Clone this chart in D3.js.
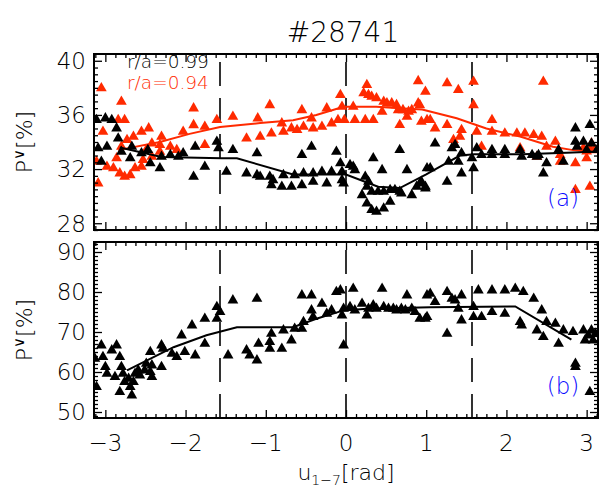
<!DOCTYPE html>
<html><head><meta charset="utf-8">
<script src="https://cdn.jsdelivr.net/npm/d3@7"></script>
<style>
body{margin:0;background:#fff;}
svg text{font-family:"DejaVu Sans","Liberation Sans",sans-serif;font-weight:200;}
</style></head>
<body><svg id="c" width="599" height="489"></svg>
<script>
// ---------- data ----------
const title = "#28741";
const xTicks = [-3,-2,-1,0,1,2,3];
const topYTicks = [28,32,36,40];
const botYTicks = [50,60,70,80,90];
const dashedAt = [-Math.PI/2, 0, Math.PI/2];
const legendLabels = ["r/a=0.99","r/a=0.94"];

const topBlack = [[-3.11,35.63],[-3.0,35.75],[-2.92,35.63],[-2.86,35.01],[-2.84,34.27],[-3.09,33.54],[-2.98,33.65],[-3.05,32.55],[-2.80,33.29],[-2.67,33.65],[-2.69,32.8],[-2.55,33.17],[-2.47,33.41],[-2.44,32.43],[-2.32,32.06],[-2.30,32.92],[-2.19,33.04],[-2.09,32.92],[-2.03,33.17],[-1.90,31.44],[-1.76,32.18],[-1.88,33.65],[-1.61,34.02],[-1.59,33.54],[-1.49,31.81],[-1.41,33.41],[-1.24,31.69],[-1.11,31.56],[-1.11,33.17],[-1.07,31.44],[-0.95,31.44],[-0.93,30.82],[-0.91,31.19],[-0.80,30.7],[-0.78,31.56],[-0.68,30.7],[-0.64,31.56],[-0.55,33.04],[-0.55,30.82],[-0.53,31.69],[-0.43,33.65],[-0.41,31.07],[-0.41,31.69],[-0.30,31.81],[-0.24,30.95],[-0.18,31.81],[-0.12,33.29],[-0.07,32.43],[-0.05,31.81],[-0.05,31.19],[-0.03,30.95],[0.05,32.3],[0.09,32.18],[0.11,31.93],[0.24,31.44],[0.28,31.07],[0.26,30.7],[0.20,30.08],[0.26,29.47],[0.32,28.98],[0.38,28.85],[0.47,29.1],[0.34,32.8],[0.32,30.33],[0.40,30.33],[0.45,31.93],[0.47,30.33],[0.55,29.59],[0.55,30.46],[0.61,30.46],[0.67,33.41],[0.67,30.33],[0.69,30.21],[0.76,31.93],[0.82,30.08],[0.88,30.7],[0.92,30.95],[0.99,30.7],[1.01,32.06],[0.94,31.07],[0.99,30.58],[1.05,32.06],[1.11,33.9],[1.28,32.55],[1.26,31.07],[1.32,33.54],[1.36,33.78],[1.40,32.55],[1.44,31.69],[1.44,33.17],[1.57,32.8],[1.59,32.06],[1.63,33.54],[1.69,33.04],[1.82,33.41],[1.82,33.04],[1.98,33.41],[1.98,33.04],[2.17,33.41],[2.19,32.92],[2.32,33.04],[2.38,32.92],[2.40,33.04],[2.46,31.69],[2.50,32.43],[2.65,33.41],[2.71,32.55],[2.86,35.01],[2.86,34.02],[2.88,33.65],[2.96,34.02],[3.04,35.26],[3.06,33.9],[3.0,33.41],[3.13,33.41]];

const topRed = [[-3.05,37.97],[-2.80,36.98],[-3.03,34.76],[-3.11,32.55],[-3.09,30.95],[-2.98,32.18],[-2.84,35.63],[-2.76,35.63],[-2.80,33.65],[-2.65,34.39],[-2.55,34.76],[-2.46,35.01],[-2.73,34.15],[-2.86,32.8],[-2.90,32.06],[-2.82,31.69],[-2.76,31.44],[-2.69,31.56],[-2.63,32.06],[-2.55,32.18],[-2.53,32.67],[-2.42,32.92],[-2.49,33.41],[-2.42,33.9],[-2.32,33.29],[-2.32,33.78],[-2.30,34.39],[-2.19,33.65],[-2.11,33.41],[-2.03,34.76],[-1.90,36.49],[-1.90,35.25],[-1.76,35.13],[-1.76,33.78],[-1.61,35.63],[-1.41,35.87],[-1.24,34.27],[-1.10,35.75],[-1.07,34.39],[-0.93,34.64],[-0.95,36.73],[-0.78,34.76],[-0.80,35.38],[-0.68,35.01],[-0.61,34.89],[-0.53,35.13],[-0.55,36.36],[-0.43,35.75],[-0.41,35.01],[-0.30,35.13],[-0.24,36.49],[-0.18,35.38],[-0.07,37.47],[-0.10,35.63],[-0.05,36.61],[-0.02,35.63],[0.09,36.61],[0.11,35.63],[0.22,37.6],[0.26,38.21],[0.24,35.63],[0.28,37.47],[0.32,37.35],[0.34,35.63],[0.38,37.23],[0.45,36.24],[0.47,36.98],[0.51,36.86],[0.57,36.86],[0.63,36.73],[0.65,36.36],[0.67,35.26],[0.71,36.36],[0.76,35.87],[0.78,36.24],[0.82,36.36],[0.90,38.5],[0.90,36.86],[0.99,37.72],[1.01,35.63],[0.92,36.73],[0.94,35.5],[1.05,35.63],[1.11,35.01],[1.26,38.34],[1.40,37.84],[1.59,38.45],[1.59,36.73],[1.26,35.26],[1.34,34.15],[1.44,34.89],[1.42,34.39],[1.63,34.76],[1.82,35.63],[1.82,34.76],[1.69,33.65],[1.98,34.64],[2.13,34.64],[2.23,34.64],[2.34,34.52],[2.44,34.39],[2.46,38.45],[2.17,33.54],[2.50,33.65],[2.61,34.02],[2.67,33.04],[2.67,32.55],[2.86,32.43],[2.86,30.46],[3.04,30.7],[2.96,33.54],[3.0,33.3],[3.06,33.9],[3.10,33.4],[3.04,33.54],[2.38,32.92],[3.0,32.8]];

const bottomBlack = [[-3.13,63.35],[-3.11,56.25],[-3.05,66.68],[-3.03,63.75],[-3.00,61.25],[-2.98,59.6],[-2.92,65.43],[-2.86,66.68],[-2.88,58.75],[-2.82,63.75],[-2.80,61.25],[-2.82,55.0],[-2.78,59.6],[-2.76,57.5],[-2.71,58.35],[-2.69,56.25],[-2.67,54.18],[-2.65,57.5],[-2.63,59.6],[-2.59,60.43],[-2.57,59.18],[-2.51,60.43],[-2.49,62.1],[-2.44,65.0],[-2.44,60.0],[-2.42,61.68],[-2.42,58.75],[-2.30,61.25],[-2.30,66.68],[-2.28,65.85],[-2.17,64.6],[-2.11,63.75],[-2.05,69.18],[-2.01,65.0],[-1.92,71.68],[-1.88,64.18],[-1.76,67.1],[-1.76,73.35],[-1.61,73.35],[-1.61,76.25],[-1.57,75.0],[-1.47,64.18],[-1.41,77.93],[-1.24,65.43],[-1.11,78.35],[-1.09,67.1],[-1.11,62.93],[-1.20,64.18],[-0.95,67.5],[-0.93,69.6],[-0.95,65.85],[-0.80,65.85],[-0.78,70.43],[-0.68,67.93],[-0.64,70.85],[-0.55,70.85],[-0.53,72.5],[-0.55,79.18],[-0.43,79.18],[-0.41,73.75],[-0.43,75.43],[-0.30,77.1],[-0.24,74.6],[-0.18,75.43],[-0.12,80.0],[-0.07,80.43],[-0.05,74.18],[-0.03,75.85],[-0.03,66.68],[0.05,76.25],[0.09,80.85],[0.11,75.43],[0.20,77.1],[0.26,74.18],[0.28,75.85],[0.34,76.68],[0.38,75.85],[0.45,80.85],[0.47,76.25],[0.53,75.85],[0.59,75.85],[0.63,75.43],[0.69,75.85],[0.74,75.43],[0.76,79.18],[0.82,75.85],[0.86,75.0],[0.92,73.35],[1.01,79.18],[1.01,73.75],[0.99,73.35],[1.05,79.6],[1.11,77.5],[1.26,80.0],[1.26,69.6],[1.32,78.35],[1.36,77.93],[1.40,75.85],[1.44,79.18],[1.44,72.93],[1.59,76.25],[1.59,73.75],[1.65,80.43],[1.69,73.75],[1.82,80.43],[1.82,75.0],[1.98,80.43],[1.98,74.6],[2.11,80.85],[2.21,80.0],[2.17,72.5],[2.19,71.68],[2.34,78.35],[2.38,70.43],[2.44,75.43],[2.46,68.75],[2.50,72.5],[2.61,72.1],[2.65,67.1],[2.71,70.43],[2.83,70.0],[2.86,62.1],[2.86,61.25],[2.96,70.43],[2.98,67.93],[3.02,69.18],[3.06,70.43],[3.08,67.93],[3.11,69.6],[3.04,55.0]];

const topBlackFit = [[-2.82,33.6],[-2.3,32.9],[-1.55,32.8],[-1.36,32.8],[-0.66,31.6],[0.0,31.6],[0.4,30.7],[0.67,30.6],[1.0,31.6],[1.42,33.0],[1.6,33.1],[2.2,33.1],[2.75,33.2],[3.14,33.3]];
const topRedFit = [[-2.84,33.4],[-2.32,34.0],[-1.95,34.6],[-1.57,35.1],[-1.07,35.4],[-0.66,35.6],[-0.37,36.0],[-0.03,36.6],[0.38,36.6],[0.67,36.5],[0.95,36.4],[1.38,35.75],[1.75,35.0],[2.17,34.4],[2.58,33.65],[2.83,33.4],[3.14,33.3]];
const bottomFit = [[-2.73,60.4],[-2.15,66.2],[-1.74,69.2],[-1.36,71.2],[-0.66,71.2],[-0.37,73.3],[-0.03,75.4],[0.26,75.8],[1.05,76.2],[2.11,76.4],[2.81,68.1]];

// ---------- layout ----------
const svg = d3.select("#c");
const L = 94, R = 598;
const panels = [
  {top:54, bottom:230, domain:[27.5,40.5], ticks:topYTicks, minor:0.5, tag:"(a)"},
  {top:242, bottom:418, domain:[48.5,92.5], ticks:botYTicks, minor:1, tag:"(b)"}
];
const x = d3.scaleLinear().domain([-Math.PI, Math.PI]).range([L, R]);
const RED = "#ff2a00", BLUE = "#0a0aff";
const tri = d3.symbol().type(d3.symbolTriangle).size(50);

svg.append("text").attr("x", 343).attr("y", 42).attr("text-anchor","middle")
  .attr("font-size", 28).text(title);

panels.forEach((p, i) => {
  p.y = d3.scaleLinear().domain(p.domain).range([p.bottom, p.top]);
  const g = svg.append("g");
  const clipId = "clip"+i;
  svg.append("clipPath").attr("id", clipId).append("rect")
    .attr("x", L).attr("y", p.top).attr("width", R-L).attr("height", p.bottom-p.top);
  const plot = g.append("g").attr("clip-path", `url(#${clipId})`);

  plot.selectAll("line.dash").data(dashedAt).join("line")
    .attr("x1", d=>x(d)).attr("x2", d=>x(d)).attr("y1", p.bottom).attr("y2", p.top)
    .attr("stroke","#000").attr("stroke-width",1.6).attr("stroke-dasharray","24,12");

  const xMinor = d3.range(-3.125, 3.2, 0.125).filter(v => Math.abs(v - Math.round(v)) > 1e-6);
  const yMinor = d3.range(Math.ceil(p.domain[0]/p.minor)*p.minor, p.domain[1], p.minor)
      .filter(v => !p.ticks.some(t => Math.abs(t - v) < 1e-6));
  const axB = d3.axisBottom(x).tickValues(xTicks).tickSize(-8).tickFormat("");
  const axT = d3.axisTop(x).tickValues(xTicks).tickSize(-8).tickFormat("");
  const axBm = d3.axisBottom(x).tickValues(xMinor).tickSize(-4).tickFormat("");
  const axTm = d3.axisTop(x).tickValues(xMinor).tickSize(-4).tickFormat("");
  const axL = d3.axisLeft(p.y).tickValues(p.ticks).tickSize(-8).tickFormat("");
  const axR = d3.axisRight(p.y).tickValues(p.ticks).tickSize(-8).tickFormat("");
  const axLm = d3.axisLeft(p.y).tickValues(yMinor).tickSize(-4).tickFormat("");
  const axRm = d3.axisRight(p.y).tickValues(yMinor).tickSize(-4).tickFormat("");
  [[axB,0,p.bottom],[axBm,0,p.bottom],[axT,0,p.top],[axTm,0,p.top],
   [axL,L,0],[axLm,L,0],[axR,R,0],[axRm,R,0]].forEach(([a,tx,ty]) => {
    const ag = g.append("g").attr("transform",`translate(${tx},${ty})`).call(a);
    ag.select(".domain").remove();
    ag.selectAll("line").attr("stroke","#000").attr("stroke-width",1.3);
  });

  g.selectAll("text.yl").data(p.ticks).join("text")
    .attr("x", 86).attr("y", d => p.y(d)).attr("dy","0.36em")
    .attr("text-anchor","end").attr("font-size", 23).text(d => d);

  const yc = (p.top + p.bottom)/2;
  const yt = g.append("text").attr("transform", `translate(32,${yc}) rotate(-90)`)
    .attr("text-anchor","middle").attr("font-size", 22);
  yt.append("tspan").text("P");
  yt.append("tspan").attr("font-size", 15).attr("dy", -8).text("\u2228");
  yt.append("tspan").attr("dy", 8).text("[%]");

  g.append("text").attr("x", 563).attr("y", p.bottom - 32).attr("dy","0.36em")
    .attr("text-anchor","middle").attr("font-size", 23).attr("fill", BLUE).text(p.tag);

  p.plot = plot; p.g = g;
});

const line = (sy) => d3.line().x(d => x(d[0])).y(d => sy(d[1]));
const P0 = panels[0], P1 = panels[1];

P0.plot.append("path").datum(topRedFit).attr("d", line(P0.y))
  .attr("fill","none").attr("stroke",RED).attr("stroke-width",2);
P0.plot.selectAll("path.rt").data(topRed).join("path")
  .attr("transform", d => `translate(${x(d[0])},${P0.y(d[1])})`).attr("d", tri).attr("fill", RED);
P0.plot.append("path").datum(topBlackFit).attr("d", line(P0.y))
  .attr("fill","none").attr("stroke","#000").attr("stroke-width",2);
P0.plot.selectAll("path.bt").data(topBlack).join("path")
  .attr("transform", d => `translate(${x(d[0])},${P0.y(d[1])})`).attr("d", tri).attr("fill", "#000");

P1.plot.append("path").datum(bottomFit).attr("d", line(P1.y))
  .attr("fill","none").attr("stroke","#000").attr("stroke-width",2);
P1.plot.selectAll("path.bb").data(bottomBlack).join("path")
  .attr("transform", d => `translate(${x(d[0])},${P1.y(d[1])})`).attr("d", tri).attr("fill", "#000");

panels.forEach(p => {
  svg.append("rect").attr("x", L).attr("y", p.top).attr("width", R-L).attr("height", p.bottom-p.top)
    .attr("fill","none").attr("stroke","#000").attr("stroke-width",2);
});

// legend
svg.append("text").attr("x",127).attr("y",68).attr("font-size",18.5).attr("fill","#000").text(legendLabels[0]);
svg.append("text").attr("x",127).attr("y",89).attr("font-size",18.5).attr("fill",RED).text(legendLabels[1]);

svg.selectAll("text.xl").data(xTicks).join("text")
  .attr("x", d => x(d)).attr("y", 451).attr("text-anchor","middle").attr("font-size", 23)
  .text(d => d < 0 ? "\u2212" + Math.abs(d) : d);

const xt = svg.append("text").attr("x", 346).attr("y", 480).attr("text-anchor","middle").attr("font-size", 22);
xt.append("tspan").text("u");
xt.append("tspan").attr("font-size", 14).attr("dy", 5).text("1\u22127");
xt.append("tspan").attr("dy", -5).text("[rad]");
</script></body></html>
